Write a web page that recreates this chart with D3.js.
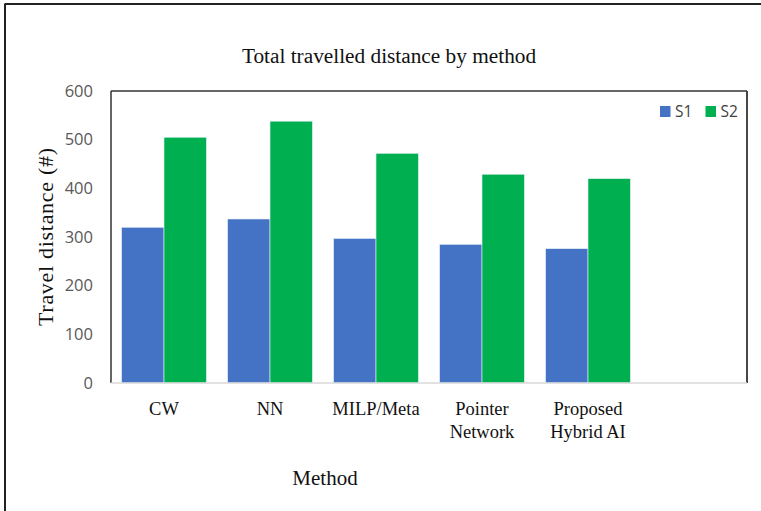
<!DOCTYPE html>
<html>
<head>
<meta charset="utf-8">
<script src="https://cdn.jsdelivr.net/npm/d3@7"></script>
<style>
  html, body { margin: 0; padding: 0; background: #fff; }
  svg { display: block; }
</style>
</head>
<body>
<svg id="chart" width="761" height="511"></svg>
<script>
// ---- Data ----
const categories = ["CW", "NN", "MILP/Meta", "Pointer\nNetwork", "Proposed\nHybrid AI", ""];
const seriesNames = ["S1", "S2"];
const s1Values = [320, 337, 297, 285, 276];
const s2Values = [505, 538, 472, 429, 420];
const yTicks = [0, 100, 200, 300, 400, 500, 600];
const colors = ["#4472C4", "#00B050"];

const svg = d3.select("#chart");
const W = 761, H = 511;
const plot = { left: 111, top: 91, right: 747, bottom: 383 };

// outer border (top and left visible)
svg.append("line").attr("x1", 4.5).attr("x2", W).attr("y1", 4).attr("y2", 4)
  .attr("stroke", "#222").attr("stroke-width", 2);
svg.append("line").attr("x1", 5).attr("x2", 5).attr("y1", 4).attr("y2", H)
  .attr("stroke", "#222").attr("stroke-width", 2);

const x0 = d3.scaleBand().domain(d3.range(categories.length))
  .range([plot.left, plot.right]).paddingInner(0.2).paddingOuter(0.1);
const x1 = d3.scaleBand().domain(seriesNames).range([0, x0.bandwidth()]);
const y = d3.scaleLinear().domain([0, 600]).range([plot.bottom, plot.top]);

const data = s1Values.map((v, i) => ({ i, vals: [v, s2Values[i]] }));

// bars
const g = svg.append("g");
data.forEach(d => {
  d.vals.forEach((v, k) => {
    g.append("rect")
      .attr("x", x0(d.i) + x1(seriesNames[k]))
      .attr("y", y(v))
      .attr("width", x1.bandwidth())
      .attr("height", y(0) - y(v))
      .attr("fill", colors[k])
      .attr("stroke", "#e8f0f8")
      .attr("stroke-width", 0.6);
  });
});

// plot frame: left, top, right dark; bottom light gray
svg.append("line").attr("x1", plot.left).attr("x2", plot.right).attr("y1", plot.top).attr("y2", plot.top)
  .attr("stroke", "#333").attr("stroke-width", 1.5);
svg.append("line").attr("x1", plot.left).attr("x2", plot.left).attr("y1", plot.top).attr("y2", plot.bottom)
  .attr("stroke", "#333").attr("stroke-width", 1.5);
svg.append("line").attr("x1", plot.right).attr("x2", plot.right).attr("y1", plot.top).attr("y2", plot.bottom)
  .attr("stroke", "#333").attr("stroke-width", 1.8);

// x axis line
svg.append("line").attr("x1", plot.left).attr("x2", plot.right).attr("y1", plot.bottom).attr("y2", plot.bottom)
  .attr("stroke", "#d9d9d9").attr("stroke-width", 1.5);

// y axis tick labels
const yAxis = d3.axisLeft(y).tickValues(yTicks).tickSize(0).tickPadding(18);
const ya = svg.append("g").attr("transform", `translate(${plot.left},0)`).call(yAxis);
ya.select(".domain").remove();
ya.selectAll("text").attr("font-family", "'Open Sans', 'Liberation Sans', sans-serif")
  .attr("font-size", 16.5).attr("fill", "#595959");

// category labels
const xAxis = d3.axisBottom(x0).tickSize(0).tickFormat(() => "");
const xa = svg.append("g").attr("transform", `translate(0,${plot.bottom})`).call(xAxis);
xa.select(".domain").remove();
xa.selectAll(".tick").each(function(d) {
  const lines = categories[d].split("\n");
  const t = d3.select(this).append("text")
    .attr("text-anchor", "middle")
    .attr("font-family", "'Liberation Serif', 'Times New Roman', serif")
    .attr("font-size", 18.5).attr("fill", "#111");
  lines.forEach((ln, j) => {
    t.append("tspan").attr("x", 0).attr("y", 32 + j * 23).text(ln);
  });
});

// title
svg.append("text").attr("x", 389).attr("y", 63)
  .attr("text-anchor", "middle")
  .attr("font-family", "'Liberation Serif', 'Times New Roman', serif")
  .attr("font-size", 21.3).attr("fill", "#111")
  .text("Total travelled distance by method");

// x axis title
svg.append("text").attr("x", 325).attr("y", 485)
  .attr("text-anchor", "middle")
  .attr("font-family", "'Liberation Serif', 'Times New Roman', serif")
  .attr("font-size", 21).attr("fill", "#111")
  .text("Method");

// y axis title
svg.append("text")
  .attr("transform", `translate(53,${(plot.top + plot.bottom) / 2}) rotate(-90)`)
  .attr("text-anchor", "middle")
  .attr("font-family", "'Liberation Serif', 'Times New Roman', serif")
  .attr("font-size", 22).attr("fill", "#111")
  .attr("textLength", 178).attr("lengthAdjust", "spacing")
  .text("Travel distance (#)");

// legend
const leg = svg.append("g").attr("transform", "translate(660,106)");
seriesNames.forEach((s, k) => {
  const lg = leg.append("g").attr("transform", `translate(${k * 45.5},0)`);
  lg.append("rect").attr("width", 10.5).attr("height", 11).attr("fill", colors[k]);
  lg.append("text").attr("x", 15).attr("y", 11)
    .attr("font-family", "'Open Sans', 'Liberation Sans', sans-serif")
    .attr("font-size", 15.5).attr("fill", "#404040").text(s);
});
</script>
</body>
</html>
